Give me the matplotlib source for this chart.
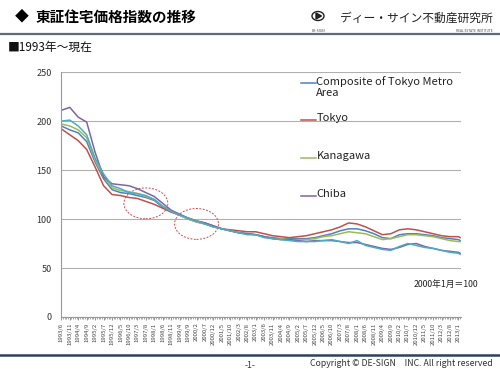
import matplotlib
matplotlib.use("Agg")
import matplotlib.pyplot as plt
from matplotlib.patches import Ellipse, Circle, Polygon
from matplotlib.lines import Line2D

plt.rcParams['font.family'] = ['Noto Sans CJK JP', 'DejaVu Sans']

# ================= DATA =================
# sample dates (every 5 months) - also used as x tick labels
dates = [
    '1993/6', '1993/11', '1994/4', '1994/9', '1995/2', '1995/7', '1995/12',
    '1996/5', '1996/10', '1997/3', '1997/8', '1998/1', '1998/6', '1998/11',
    '1999/4', '1999/9', '2000/2', '2000/7', '2000/12', '2001/5', '2001/10',
    '2002/3', '2002/8', '2003/1', '2003/6', '2003/11', '2004/4', '2004/9',
    '2005/2', '2005/7', '2005/12', '2006/5', '2006/10', '2007/3', '2007/8',
    '2008/1', '2008/6', '2008/11', '2009/4', '2009/9', '2010/2', '2010/7',
    '2010/12', '2011/5', '2011/10', '2012/3', '2012/8', '2013/1', '2013/2',
]

composite = [195, 191, 188, 179, 158, 141, 130, 127, 126, 124, 122, 119, 112,
             108, 104, 100, 97, 95, 92, 90, 88, 86, 85, 84, 82, 81, 80, 80,
             80, 80, 81, 83, 85, 88, 90, 90, 88, 85, 81, 80, 84, 85, 85, 84,
             83, 81, 80, 79, 78]
tokyo = [192, 186, 180, 171, 153, 134, 125, 124, 122, 121, 118, 115, 111,
         107, 104, 101, 98, 96, 93, 90, 89, 88, 87, 87, 85, 83, 82, 81,
         82, 83, 85, 87, 89, 92, 96, 95, 92, 88, 84, 85, 89, 90, 89, 87,
         85, 83, 82, 82, 81]
kanagawa = [197, 195, 191, 183, 160, 143, 132, 129, 128, 126, 123, 120, 113,
            108, 104, 100, 97, 95, 92, 90, 88, 86, 85, 84, 82, 80, 80, 79,
            79, 79, 80, 82, 83, 85, 87, 86, 85, 82, 79, 80, 82, 84, 84, 83,
            82, 80, 78, 77, 77]
chiba = [211, 214, 204, 199, 168, 143, 136, 135, 134, 131, 127, 123, 116,
         109, 105, 101, 98, 96, 93, 90, 88, 86, 85, 84, 82, 80, 79, 79,
         78, 77, 78, 78, 78, 77, 76, 76, 74, 72, 70, 69, 71, 74, 75, 72,
         70, 68, 67, 66, 65]
saitama = [200, 201, 195, 186, 162, 146, 134, 131, 127, 126, 124, 120, 113,
           108, 104, 101, 98, 95, 92, 90, 88, 86, 84, 84, 81, 80, 79, 78,
           77, 77, 77, 78, 79, 77, 75, 78, 73, 71, 69, 68, 72, 75, 73, 71,
           70, 68, 66, 65, 64]

series_names = ['Composite of Tokyo Metro\nArea', 'Tokyo', 'Kanagawa', 'Chiba']
colors = ['#4F81BD', '#C0504D', '#9BBB59', '#8064A2', '#4BACC6']

# dashed circles (center date, center value)
circle_dates = ['1997/8', '2000/2']
circle_values = [116, 95]


def month_index(d):
    y, m = d.split('/')
    return (int(y) - 1993) * 12 + (int(m) - 6)


x = [month_index(d) for d in dates]

# ================= FIGURE =================
fig = plt.figure(figsize=(5, 3.75), dpi=100)
ax = fig.add_axes([0.121, 0.1547, 0.801, 0.653])

all_series = [composite, tokyo, kanagawa, chiba, saitama]
for vals, c in zip(all_series, colors):
    ax.plot(x, vals, color=c, lw=1.1, solid_joinstyle='round')

for d, v in zip(circle_dates, circle_values):
    ax.add_patch(Ellipse((month_index(d), v), 26, 31.5, fill=False,
                         edgecolor='#D24B4B', lw=0.7, linestyle=(0, (2, 1.5))))

ax.set_xlim(-0.5, 236.5)
ax.set_ylim(0, 250)
ax.set_yticks(range(0, 251, 50))
ax.grid(axis='y', color='#B0B0B0', lw=0.8)
ax.set_axisbelow(True)
ax.tick_params(axis='y', length=0, pad=6.5, labelsize=6.5, colors='#333333')

ticks = [month_index(d) for d in dates[:-1]]
ax.set_xticks(ticks)
ax.set_xticklabels(dates[:-1], rotation=90, fontsize=4.3, color='#444444')
ax.set_xticks(range(0, 237), minor=True)
ax.tick_params(axis='x', which='major', length=2.5, color='#999999', pad=1.5)
ax.tick_params(axis='x', which='minor', length=1.5, color='#999999')

for s in ['top', 'right']:
    ax.spines[s].set_visible(False)
for s in ['left', 'bottom']:
    ax.spines[s].set_color('#999999')
    ax.spines[s].set_linewidth(0.8)

# legend drawn by hand (Excel style, wide spacing)
leg_y = [0.955, 0.804, 0.649, 0.494]
for name, c, yy in zip(series_names, colors, leg_y):
    ax.add_line(Line2D([0.600, 0.637], [yy, yy], color=c, lw=1.1,
                       transform=ax.transAxes, clip_on=False))
    ax.text(0.639, yy + 0.028, name, transform=ax.transAxes, fontsize=8,
            va='top', ha='left', color='#222222', linespacing=1.15)

# ================= HEADER / FOOTER =================
fig.text(15 / 500, 1 - 17 / 375, '◆', fontsize=10, va='center', ha='left')
fig.text(36 / 500, 1 - 17 / 375, '東証住宅価格指数の推移', fontsize=10.5,
         fontweight='bold', va='center', ha='left')

fig.add_artist(Circle((318 / 500, 1 - 16 / 375), 6 / 500, fill=False,
                      lw=1.0, color='#222222', transform=fig.transFigure))
fig.add_artist(Polygon([(316 / 500, 1 - 13 / 375), (316 / 500, 1 - 19 / 375),
                        (321.5 / 500, 1 - 16 / 375)], closed=True,
                       color='#222222', transform=fig.transFigure))
fig.text(318 / 500, 1 - 31 / 375, 'DE-SIGN', fontsize=2.5, ha='center',
         va='center', color='#444444')
fig.text(340 / 500, 1 - 18 / 375, 'ディー・サイン不動産研究所', fontsize=8.5,
         va='center', ha='left', color='#222222')
fig.text(493 / 500, 1 - 31 / 375, 'REAL ESTATE INSTITUTE', fontsize=2.3,
         ha='right', va='center', color='#444444')

fig.add_artist(Line2D([0, 1], [1 - 33.5 / 375] * 2, color='#5B6B7B', lw=1.6,
                      transform=fig.transFigure))

fig.text(8 / 500, 1 - 47 / 375, '■1993年～現在', fontsize=8.5, va='center',
         ha='left', color='#111111')

fig.text(478 / 500, 1 - 284 / 375, '2000年1月＝100', fontsize=6.3,
         va='center', ha='right', color='#222222')

fig.add_artist(Line2D([0, 1], [1 - 355 / 375] * 2, color='#2A4160', lw=1.8,
                      transform=fig.transFigure))
fig.text(250 / 500, 1 - 365 / 375, '-1-', fontsize=6.3, va='center',
         ha='center', color='#333333')
fig.text(493 / 500, 1 - 364 / 375, 'Copyright © DE-SIGN　INC. All right reserved',
         fontsize=6.3, va='center', ha='right', color='#333333')

fig.savefig('out.png', dpi=100)
